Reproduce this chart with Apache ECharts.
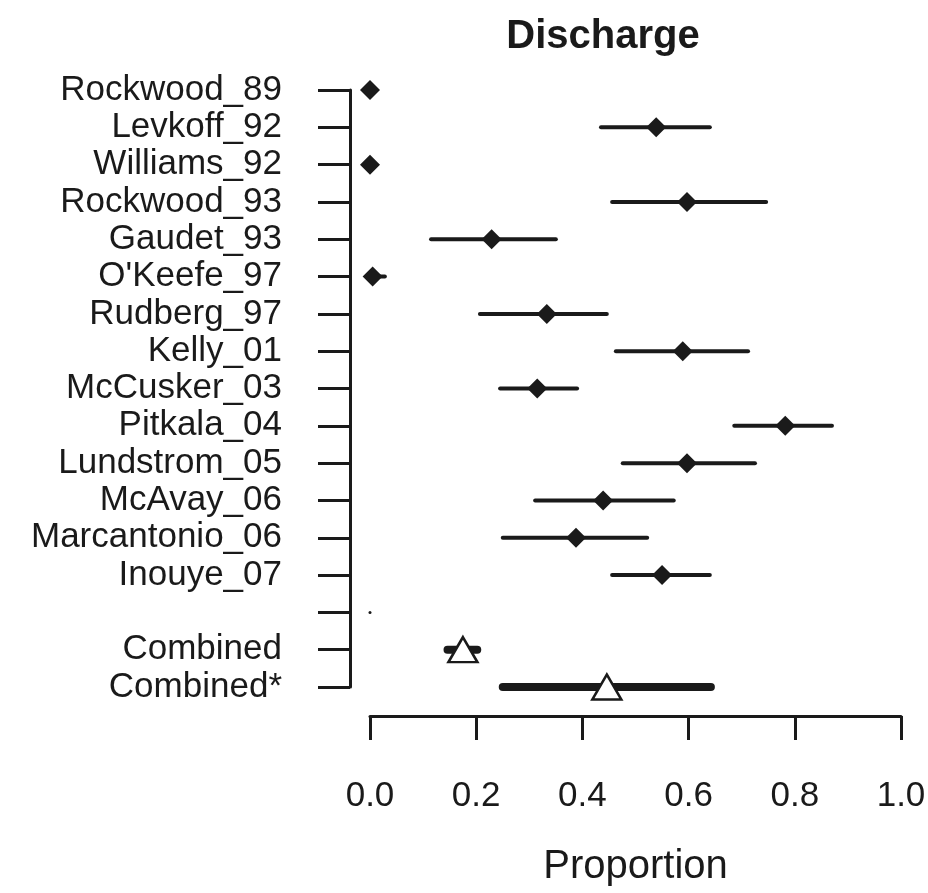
<!DOCTYPE html>
<html>
<head>
<meta charset="utf-8">
<script src="https://cdn.jsdelivr.net/npm/echarts@6/dist/echarts.min.js"></script>
<style>
html,body{margin:0;padding:0;background:#fff;}
#chart{width:928px;height:893px;}
</style>
</head>
<body>
<div id="chart"></div>
<script>
// ---- data ----
const rowLabels = ['Rockwood_89','Levkoff_92','Williams_92','Rockwood_93','Gaudet_93',"O'Keefe_97",
  'Rudberg_97','Kelly_01','McCusker_03','Pitkala_04','Lundstrom_05','McAvay_06','Marcantonio_06',
  'Inouye_07','','Combined','Combined*'];
const studyNames = ['Rockwood_89','Levkoff_92','Williams_92','Rockwood_93','Gaudet_93',"O'Keefe_97",
  'Rudberg_97','Kelly_01','McCusker_03','Pitkala_04','Lundstrom_05','McAvay_06','Marcantonio_06','Inouye_07'];
const studyPoint = [0.000,0.539,0.000,0.597,0.229,0.005,0.333,0.589,0.315,0.782,0.597,0.439,0.388,0.550];
const studyLower = [0.000,0.435,0.000,0.456,0.115,0.000,0.207,0.463,0.245,0.686,0.476,0.311,0.250,0.456];
const studyUpper = [0.000,0.640,0.000,0.746,0.350,0.028,0.446,0.712,0.390,0.870,0.725,0.572,0.522,0.640];
const blankName = [''];
const blankPoint = [0.0];
const combinedNames = ['Combined','Combined*'];
const combinedPoint = [0.175,0.446];
const combinedLower = [0.146,0.250];
const combinedUpper = [0.202,0.642];
const xTicks = [0.0,0.2,0.4,0.6,0.8,1.0];
const titleText = 'Discharge';
const xTitle = 'Proportion';

// ---- build ----
const idx = n => rowLabels.indexOf(n);
const studyCI = studyNames.map((n,i)=>[studyLower[i],studyUpper[i],idx(n)]);
const studyPts = studyNames.map((n,i)=>[studyPoint[i],idx(n)]);
const combCI = combinedNames.map((n,i)=>[combinedLower[i],combinedUpper[i],idx(n)]);
const combPts = combinedNames.map((n,i)=>[combinedPoint[i],idx(n)]);
const blankPts = blankName.map((n,i)=>[blankPoint[i],idx(n)]);

const ink = '#1a1a1a';
const font = 'Liberation Sans, Arial, Helvetica, sans-serif';

function ciRender(width){
  return function(params, api){
    const a = api.coord([api.value(0), api.value(2)]);
    const b = api.coord([api.value(1), api.value(2)]);
    return {type:'line', shape:{x1:a[0],y1:a[1],x2:b[0],y2:b[1]},
      style:{stroke:ink,lineWidth:width,lineCap:'round'}};
  };
}

const chart = echarts.init(document.getElementById('chart'), null, {renderer:'canvas'});
chart.setOption({
  backgroundColor:'#fff',
  animation:false,
  title:{text:titleText,left:598,top:12,textAlign:'center',
    textStyle:{fontFamily:font,fontWeight:'bold',fontSize:40,color:ink}},
  grid:[
    {left:370,right:27,top:90,bottom:206,containLabel:false,outerBoundsMode:'none'},
    {left:350,width:1,top:90,bottom:206,containLabel:false,outerBoundsMode:'none'}
  ],
  xAxis:[
    {gridIndex:0,type:'value',min:0,max:1,interval:0.2,offset:29,
      name:xTitle,nameLocation:'middle',nameGap:131,
      nameTextStyle:{fontFamily:font,fontSize:40,color:ink},
      axisLine:{show:true,lineStyle:{color:ink,width:3}},
      axisTick:{show:true,length:24,lineStyle:{color:ink,width:3}},
      axisLabel:{fontFamily:font,fontSize:35,color:ink,margin:63,
        formatter:v=>{const t=xTicks.find(x=>Math.abs(x-v)<1e-9);return t===undefined?'':t.toFixed(1);}},
      splitLine:{show:false}},
    {gridIndex:1,type:'value',min:0,max:1,show:false}
  ],
  yAxis:[
    {gridIndex:0,type:'category',data:rowLabels,inverse:true,boundaryGap:false,
      axisLine:{show:false},axisTick:{show:false},axisLabel:{show:false},splitLine:{show:false}},
    {gridIndex:1,type:'category',data:rowLabels,inverse:true,boundaryGap:false,
      axisLine:{show:true,lineStyle:{color:ink,width:3}},
      axisTick:{show:true,length:32,alignWithLabel:true,interval:0,lineStyle:{color:ink,width:3}},
      axisLabel:{fontFamily:font,fontSize:35,color:ink,margin:68,interval:0},
      splitLine:{show:false}}
  ],
  series:[
    {type:'custom',xAxisIndex:0,yAxisIndex:0,renderItem:ciRender(4),data:studyCI,encode:{x:[0,1],y:2},z:2},
    {type:'scatter',xAxisIndex:0,yAxisIndex:0,data:studyPts,symbol:'diamond',symbolSize:[20,20],
      itemStyle:{color:ink,opacity:1},z:3},
    {type:'scatter',xAxisIndex:0,yAxisIndex:0,data:blankPts,symbol:'circle',symbolSize:3,
      itemStyle:{color:ink,opacity:1},z:3},
    {type:'custom',xAxisIndex:0,yAxisIndex:0,renderItem:ciRender(8),data:combCI,encode:{x:[0,1],y:2},z:2},
    {type:'scatter',xAxisIndex:0,yAxisIndex:0,data:combPts,symbol:'triangle',symbolSize:[29,25],
      itemStyle:{color:'#fff',borderColor:ink,borderWidth:2.5,opacity:1},z:4}
  ]
});
</script>
</body>
</html>
